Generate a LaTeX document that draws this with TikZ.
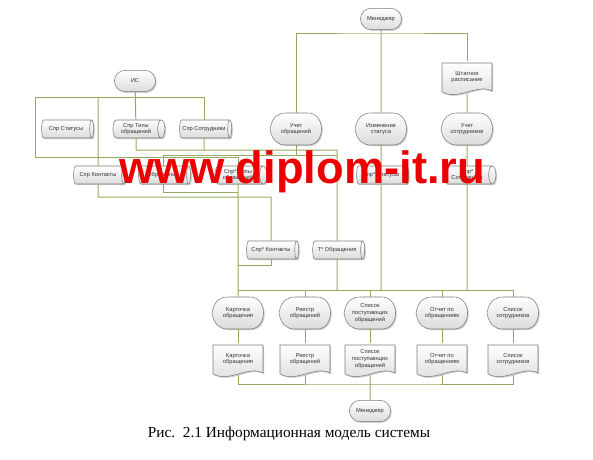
\documentclass[tikz,border=0pt]{standalone}
\usepackage{fontspec}
\setmainfont{Liberation Serif}
\newfontfamily\diagfont{Liberation Sans}
\usetikzlibrary{shapes.geometric, shapes.misc, shadows, backgrounds}

\definecolor{linegreen}{RGB}{150,170,95}
\definecolor{edgegray}{RGB}{125,125,118}
\definecolor{wmred}{RGB}{236,0,0}

% display symbol: name, x, y, text
\newcommand{\dispshape}[4]{%
  \path[boxfill] (#2-26,#3) .. controls (#2-24,#3-12) and (#2-18,#3-16) .. (#2-10,#3-16)
    -- (#2+12,#3-16) .. controls (#2+30,#3-16) and (#2+30,#3+16) .. (#2+12,#3+16)
    -- (#2-10,#3+16) .. controls (#2-18,#3+16) and (#2-24,#3+12) .. cycle;
  \node[label box] (#1) at (#2,#3) {#4};}
% document symbol: name, x, y, text
\newcommand{\docshape}[4]{%
  \path[boxfill] (#2-25,#3-16) -- (#2+25,#3-16) -- (#2+25,#3+12)
    .. controls (#2+10,#3+4) and (#2-8,#3+22) .. (#2-25,#3+13) -- cycle;
  \node[label box] (#1) at (#2,#3-2) {#4};}

\begin{document}
\begin{tikzpicture}[
    x = 0.75pt, y = -0.75pt,
    every node/.style = {font = \diagfont\fontsize{4.3}{5}\selectfont, text = black!80, align = center},
    boxfill/.style = {draw = edgegray, line width = 0.4pt, top color = white, bottom color = black!14,
      drop shadow = {shadow xshift = 0.9pt, shadow yshift = -0.9pt, fill = black!40}},
    terminal/.style = {rounded rectangle, boxfill, minimum width = 37.5pt, minimum height = 16pt},
    store/.style = {cylinder, boxfill, shape aspect = 0.5, minimum height = 39pt, minimum width = 13.5pt, inner sep = 1pt},
    label box/.style = {minimum width = 39pt, minimum height = 24pt, inner sep = 0pt},
    link/.style = {draw = linegreen, line width = 0.75pt},
    watermark/.style = {font = \diagfont\bfseries\fontsize{34}{34}\selectfont, text = wmred, anchor = base},
    caption/.style = {font = \fontsize{11.5}{14}\selectfont, text = black, anchor = base}
  ]
  \useasboundingbox (0,0) rectangle (593,460);

  % manager and tasks
  \node[terminal] (mgr_top) at (381,19) {Менеджер};
  \docshape{shtat}{467}{79}{Штатное\\расписание}
  \dispshape{uch_obr}{296}{129}{Учет\\обращений}
  \dispshape{izm_stat}{381}{129}{Изменение\\статуса}
  \dispshape{uch_sotr}{467}{129}{Учет\\сотрудников}

  % IS and reference tables
  \node[terminal] (is) at (135,81) {ИС};
  \node[store] (spr_stat) at (66,129) {Спр Статусы};
  \node[store] (spr_tipy) at (136,129) {Спр Типы\\обращений};
  \node[store] (spr_sotr) at (204,129) {Спр Сотрудники};

  \node[store] (spr_kont) at (98,175) {Спр Контакты};
  \node[store] (obr) at (163,175) {Обращения};
  \node[store] (spr_tipy2) at (238,175) {Спр* Типы\\обращений};
  \node[store] (spr_stat2) at (381,175) {Спр* Статусы};
  \node[store] (spr_sotr2) at (467,175) {Спр*\\Сотрудники};

  \node[store] (spr_kont2) at (271,250) {Спр* Контакты};
  \node[store] (t_obr) at (337,250) {Т* Обращения};

  % outputs
  \dispshape{kart}{238}{313}{Карточка\\обращения}
  \dispshape{reestr}{305}{313}{Реестр\\обращений}
  \dispshape{spis}{370}{313}{Список\\поступающих\\обращений}
  \dispshape{otch}{442}{313}{Отчет по\\обращениям}
  \dispshape{sotr}{513}{313}{Список\\сотрудников}

  \docshape{kart_doc}{238}{361}{Карточка\\обращения}
  \docshape{reestr_doc}{305}{361}{Реестр\\обращений}
  \docshape{spis_doc}{370}{361}{Список\\поступающих\\обращений}
  \docshape{otch_doc}{442}{361}{Отчет по\\обращениям}
  \docshape{sotr_doc}{513}{361}{Список\\сотрудников}

  \node[terminal] (mgr_bot) at (370,411) {Менеджер};

  \coordinate (k_mgr) at (381,34);
  \coordinate (k_is) at (35,98);
  \coordinate (k_left) at (35,157);
  \coordinate (k_tipy) at (337,150);
  \coordinate (k_obr) at (296,155);
  \coordinate (k_kont) at (271,197);
  \coordinate (k_obr2) at (238,192);
  \coordinate (k_kont2) at (238,265);
  \coordinate (k_bus) at (238,290);
  \coordinate (k_out) at (370,384);

  \begin{scope}[on background layer, every path/.style = {link}]
    \draw (mgr_top) -- (izm_stat) -- (spr_stat2) -- (spr_stat2 |- k_bus);
    \draw (uch_obr) |- (k_mgr) -| (shtat);
    \draw (shtat) -- (uch_sotr) -- (spr_sotr2) -- (spr_sotr2 |- k_bus);
    \draw (is) -- (spr_tipy);
    \draw (spr_sotr) |- (k_is) -- (k_left) -| (spr_tipy2);
    \draw (spr_kont) -- (spr_kont |- k_is);
    \draw (spr_tipy) |- (k_tipy) -- (t_obr);
    \draw (spr_sotr) -- (spr_sotr |- k_tipy);
    \draw (obr) |- (k_obr) -- (uch_obr);
    \draw (k_obr) -- (k_obr -| t_obr);
    \draw (spr_kont) |- (k_kont) -- (spr_kont2);
    \draw (obr) |- (k_obr2);
    \draw (spr_tipy2) -- (kart);
    \draw (spr_kont2) |- (k_kont2);
    \draw (t_obr) -- (t_obr |- k_bus);
    \draw (k_bus) -- (k_bus -| sotr);
    \foreach \n in {reestr, spis, otch, sotr}
      \draw (\n) -- (\n |- k_bus);
    \foreach \n in {kart, reestr, spis, otch, sotr}
      \draw (\n) -- (\n_doc);
    \draw (kart_doc) |- (k_out) -| (sotr_doc);
    \foreach \n in {reestr, otch}
      \draw (\n_doc) -- (\n_doc |- k_out);
    \draw (spis_doc) -- (mgr_bot);
  \end{scope}

  \node[watermark] (site) at (302,183) {www.diplom-it.ru};
  \node[caption] (caption) at (289,437) {Рис.\ \ 2.1 Информационная модель системы};
\end{tikzpicture}
\end{document}
